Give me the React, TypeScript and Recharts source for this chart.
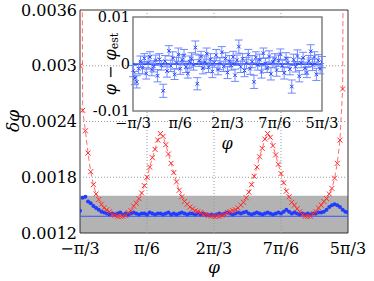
import React from "react";
import { ComposedChart, Line, Scatter, XAxis, YAxis, ReferenceArea, ReferenceLine, ErrorBar, Label } from "recharts";

// phi is kept in units of pi, sampled on a regular grid
const phiStart = -1 / 3;
const phiStep = 0.02;

const redDelta = [
  0.00300, 0.00252, 0.00230, 0.00206, 0.00186, 0.00172, 0.00162, 0.00156, 0.00151, 0.00147,
  0.00145, 0.00143, 0.00140, 0.00139, 0.00138, 0.00138, 0.00138, 0.00139, 0.00142, 0.00144,
  0.00149, 0.00152, 0.00157, 0.00163, 0.00171, 0.00180, 0.00191, 0.00201, 0.00210, 0.00220,
  0.00227, 0.00224, 0.00215, 0.00205, 0.00195, 0.00185, 0.00175, 0.00166, 0.00159, 0.00154,
  0.00151, 0.00148, 0.00146, 0.00144, 0.00143, 0.00142, 0.00140, 0.00140, 0.00139, 0.00138,
  0.00138, 0.00138, 0.00138, 0.00139, 0.00140, 0.00142, 0.00143, 0.00144, 0.00145, 0.00147,
  0.00150, 0.00153, 0.00158, 0.00164, 0.00172, 0.00181, 0.00191, 0.00202, 0.00211, 0.00221,
  0.00227, 0.00223, 0.00214, 0.00204, 0.00194, 0.00184, 0.00174, 0.00165, 0.00159, 0.00153,
  0.00150, 0.00146, 0.00143, 0.00140, 0.00138, 0.00138, 0.00138, 0.00141, 0.00143, 0.00147,
  0.00150, 0.00154, 0.00157, 0.00162, 0.00168, 0.00179, 0.00195, 0.00220, 0.00275, 0.00450,
  0.00410,
];
// the red curve blows up just inside both ends
const redPoles = [
  { phi: -0.322, d: 0.006 },
  { phi: 1.637, d: 0.006 },
];

const blueDelta = [
  0.00144, 0.00158, 0.00159, 0.00154, 0.00152, 0.00149, 0.00147, 0.00145, 0.00143, 0.00142,
  0.00141, 0.00140, 0.00141, 0.00140, 0.00141, 0.00142, 0.00140, 0.00141, 0.00140, 0.00141,
  0.00142, 0.00141, 0.00140, 0.00141, 0.00141, 0.00140, 0.00142, 0.00141, 0.00140, 0.00141,
  0.00141, 0.00140, 0.00141, 0.00142, 0.00140, 0.00141, 0.00140, 0.00141, 0.00142, 0.00141,
  0.00140, 0.00141, 0.00141, 0.00140, 0.00141, 0.00140, 0.00141, 0.00140, 0.00139, 0.00140,
  0.00139, 0.00140, 0.00141, 0.00140, 0.00141, 0.00142, 0.00141, 0.00140, 0.00141, 0.00142,
  0.00141, 0.00142, 0.00143, 0.00141, 0.00140, 0.00141, 0.00142, 0.00141, 0.00140, 0.00141,
  0.00142, 0.00141, 0.00140, 0.00141, 0.00142, 0.00141, 0.00143, 0.00145, 0.00143, 0.00141,
  0.00142, 0.00141, 0.00140, 0.00141, 0.00140, 0.00141, 0.00140, 0.00141, 0.00141, 0.00142,
  0.00142, 0.00143, 0.00145, 0.00148, 0.00150, 0.00151, 0.00150, 0.00148, 0.00145, 0.00143,
  0.00142,
];

const boundValue = 0.00138;
const bandLow = 0.0012;
const bandHigh = 0.0016;

const insetDiff = [
  -0.0015, -0.0030, -0.0038, -0.0010, 0.0005, -0.0008, 0.0012, -0.0020, 0.0003, 0.0015,
  -0.0012, -0.0005, 0.0008, -0.0025, 0.0010, -0.0003, -0.0057, 0.0006, -0.0015, 0.0028,
  -0.0004, 0.0013, -0.0022, 0.0002, 0.0020, -0.0010, 0.0009, 0.0018, -0.0006, -0.0020,
  0.0005, 0.0011, -0.0002, 0.0035, -0.0042, 0.0007, 0.0016, -0.0009, 0.0004, 0.0022,
  -0.0007, 0.0010, -0.0016, 0.0003, 0.0019, -0.0012, 0.0001, 0.0025, -0.0005, 0.0012,
  -0.0018, 0.0006, -0.0003, 0.0015, -0.0024, 0.0008, 0.0037, -0.0006, 0.0011, -0.0014,
  0.0002, 0.0020, -0.0010, 0.0005, -0.0038, 0.0014, -0.0002, 0.0009, -0.0017, 0.0023,
  0.0001, -0.0008, 0.0016, -0.0021, 0.0004, 0.0010, -0.0013, 0.0007, 0.0021, -0.0004,
  -0.0019, 0.0012, 0.0003, -0.0011, -0.0048, 0.0009, -0.0006, 0.0017, -0.0026, 0.0002,
  0.0013, -0.0009, -0.0018, 0.0006, 0.0027, -0.0002, 0.0015, -0.0022, 0.0008, -0.0010,
  0.0004,
];
const insetErr = [
  0.0012, 0.0014, 0.0013, 0.0011, 0.0012, 0.0013, 0.0010, 0.0012, 0.0014, 0.0011,
  0.0013, 0.0012, 0.0011, 0.0013, 0.0012, 0.0010, 0.0014, 0.0012, 0.0013, 0.0011,
  0.0012, 0.0013, 0.0011, 0.0012, 0.0014, 0.0012, 0.0011, 0.0013, 0.0012, 0.0010,
  0.0012, 0.0013, 0.0011, 0.0014, 0.0013, 0.0012, 0.0011, 0.0012, 0.0013, 0.0012,
  0.0011, 0.0012, 0.0013, 0.0010, 0.0012, 0.0011, 0.0013, 0.0012, 0.0011, 0.0012,
  0.0013, 0.0012, 0.0010, 0.0012, 0.0013, 0.0011, 0.0014, 0.0012, 0.0011, 0.0013,
  0.0012, 0.0011, 0.0012, 0.0013, 0.0014, 0.0012, 0.0011, 0.0012, 0.0013, 0.0011,
  0.0012, 0.0010, 0.0012, 0.0013, 0.0011, 0.0012, 0.0013, 0.0012, 0.0011, 0.0012,
  0.0013, 0.0012, 0.0011, 0.0012, 0.0014, 0.0012, 0.0011, 0.0013, 0.0012, 0.0010,
  0.0012, 0.0013, 0.0011, 0.0012, 0.0014, 0.0012, 0.0011, 0.0013, 0.0012, 0.0011,
  0.0012,
];

const xTicks = [-1 / 3, 1 / 6, 2 / 3, 7 / 6, 5 / 3];
const xLabels = ["−π/3", "π/6", "2π/3", "7π/6", "5π/3"];
const yTicks = [0.0012, 0.0018, 0.0024, 0.003, 0.0036];
const yLabels = ["0.0012", "0.0018", "0.0024", "0.003", "0.0036"];
const insetYTicks = [-0.01, 0, 0.01];
const insetYLabels = ["-0.01", "0", "0.01"];

const FONT = "DejaVu Serif";

const gridPhi = (i) => phiStart + i * phiStep;
const redData = [...redDelta.map((d, i) => ({ phi: gridPhi(i), d })), ...redPoles].sort((a, b) => a.phi - b.phi);
const blueData = blueDelta.map((d, i) => ({ phi: gridPhi(i), d }));
const insetData = insetDiff.map((v, i) => ({ phi: gridPhi(i), v, err: insetErr[i] }));

const pick = (ticks, labels) => (v) => {
  const i = ticks.findIndex((t) => Math.abs(t - v) < 1e-9);
  return i >= 0 ? labels[i] : "";
};

const RedCross = (p) => {
  const { cx, cy, index } = p;
  if (cx == null || cy == null) return <g key={index} />;
  const s = 2.5;
  return <path key={index} d={`M${cx - s},${cy - s}L${cx + s},${cy + s}M${cx - s},${cy + s}L${cx + s},${cy - s}`} stroke="#ff2a2a" strokeWidth={1} fill="none" />;
};

const BlueDot = (p) => <circle cx={p.cx} cy={p.cy} r={2} fill="#1f3cff" />;

const SmallCross = (p) => {
  const s = 1.8;
  return <path d={`M${p.cx - s},${p.cy - s}L${p.cx + s},${p.cy + s}M${p.cx - s},${p.cy + s}L${p.cx + s},${p.cy - s}`} stroke="#2846ff" strokeWidth={1} fill="none" />;
};

const tickStyle = { fontSize: 16, fontFamily: FONT, fill: "#000" };
const insetTick = { fontSize: 14.5, fontFamily: FONT, fill: "#000" };

export default function App() {
  return (
    <div style={{ position: "absolute", left: 0, top: 0, width: 374, height: 281, background: "#fff" }}>
      <div style={{ position: "absolute", left: 0, top: 0 }}>
        <ComposedChart width={374} height={281} margin={{ top: 10, right: 26, bottom: 0, left: 0 }}>
          <XAxis type="number" dataKey="phi" domain={[-1 / 3, 5 / 3]} ticks={xTicks} tickFormatter={pick(xTicks, xLabels)}
            allowDataOverflow interval={0} tickLine={false} axisLine={false} height={48} tickMargin={4} tick={tickStyle}>
            <Label content={() => (
              <text x={214} y={267} textAnchor="middle" dominantBaseline="central" fontSize={17} fontFamily={FONT} fontStyle="italic">φ</text>
            )} />
          </XAxis>
          <YAxis type="number" dataKey="d" domain={[0.0012, 0.0036]} ticks={yTicks} tickFormatter={pick(yTicks, yLabels)}
            allowDataOverflow interval={0} width={80} tickLine={false} axisLine={false} tickSize={0} tickMargin={3} tick={tickStyle}>
            <Label content={() => (
              <text x={13} y={121} transform="rotate(-90 13 121)" textAnchor="middle" dominantBaseline="central" fontSize={17} fontFamily={FONT} fontStyle="italic">δφ</text>
            )} />
          </YAxis>
          <ReferenceArea x1={-1 / 3} x2={5 / 3} y1={bandLow} y2={bandHigh} fill="#b3b3b3" fillOpacity={1} stroke="none" />
          {xTicks.slice(1, -1).map((t) => (
            <ReferenceLine key={"x" + t} x={t} stroke="#999" strokeDasharray="1 2" />
          ))}
          {yTicks.slice(1, -1).map((t) => (
            <ReferenceLine key={"y" + t} y={t} stroke="#999" strokeDasharray="1 2" />
          ))}
          <ReferenceLine y={boundValue} stroke="#3a55ff" strokeWidth={1} />
          <Scatter data={blueData} dataKey="d" shape={BlueDot} isAnimationActive={false} />
          <Line data={redData} dataKey="d" type="linear" stroke="#ff7070" strokeWidth={1} strokeDasharray="5 3"
            dot={RedCross} activeDot={false} isAnimationActive={false} />
          <ReferenceArea x1={-1 / 3} x2={5 / 3} y1={0.0012} y2={0.0036} fill="none" stroke="#333" strokeWidth={1} />
        </ComposedChart>
      </div>
      <div style={{ position: "absolute", left: 0, top: 0 }}>
        <ComposedChart width={374} height={281} margin={{ top: 17, right: 52, bottom: 140, left: 0 }}>
          <XAxis type="number" dataKey="phi" domain={[-1 / 3, 5 / 3]} ticks={xTicks} tickFormatter={pick(xTicks, xLabels)}
            allowDataOverflow interval={0} tickLine={false} axisLine={false} height={30} tickSize={0} tickMargin={7} tick={insetTick}>
            <Label content={() => (
              <text x={227} y={143} textAnchor="middle" dominantBaseline="central" fontSize={16} fontFamily={FONT} fontStyle="italic">φ</text>
            )} />
          </XAxis>
          <YAxis type="number" dataKey="v" domain={[-0.01, 0.01]} ticks={insetYTicks} tickFormatter={pick(insetYTicks, insetYLabels)}
            allowDataOverflow interval={0} width={133} tickLine={false} axisLine={false} tickSize={0} tickMargin={3} tick={insetTick}>
            <Label content={() => (
              <text x={110} y={64} transform="rotate(-90 110 64)" textAnchor="middle" dominantBaseline="central" fontSize={16} fontFamily={FONT}>
                <tspan fontStyle="italic">φ</tspan> − <tspan fontStyle="italic">φ</tspan>
                <tspan fontSize={11} dy={4}>est</tspan>
              </text>
            )} />
          </YAxis>
          <ReferenceArea x1={-1 / 3} x2={5 / 3} y1={-0.01} y2={0.01} fill="#fff" fillOpacity={1} stroke="#808080" strokeWidth={1.5} />
          <ReferenceLine y={0} stroke="#3050ff" strokeWidth={2} />
          <Scatter data={insetData} dataKey="v" shape={SmallCross} isAnimationActive={false}>
            <ErrorBar dataKey="err" direction="y" width={4} stroke="#7088ff" strokeWidth={1} />
          </Scatter>
        </ComposedChart>
      </div>
    </div>
  );
}
